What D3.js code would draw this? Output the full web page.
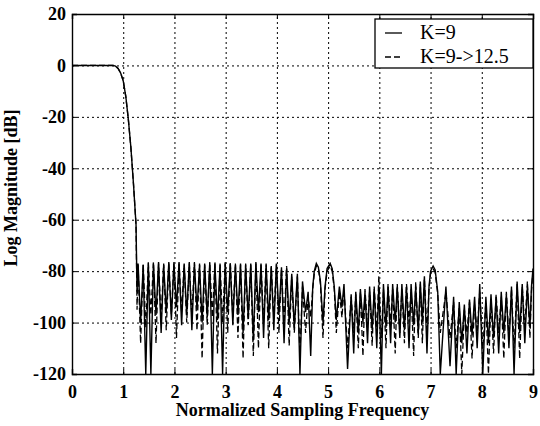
<!DOCTYPE html>
<html>
<head>
<meta charset="utf-8">
<script src="https://cdn.jsdelivr.net/npm/d3@7"></script>
<style>
  body { margin: 0; background: #fff; }
  .chart text { font-family: "Liberation Serif", "Times New Roman", serif; fill: #000; }
</style>
</head>
<body>
<div class="chart"></div>
<script>
var margin = {
    top: 14,
    right: 7,
    bottom: 52,
    left: 72
};
var width = 540 - margin.left - margin.right;
var height = 426 - margin.top - margin.bottom;
var serif = '"Liberation Serif", "Times New Roman", serif';

// tick labels
var xTicks = [0, 1, 2, 3, 4, 5, 6, 7, 8, 9];
var yTicks = [20, 0, -20, -40, -60, -80, -100, -120];
var legendLabels = ['K=9', 'K=9->12.5'];

// normalized sampling frequency (shared by both curves)
var freq = [
    0, 0.2, 0.4, 0.6, 0.8, 0.85, 0.9, 0.95, 1.0, 1.05, 1.1, 1.15, 1.2, 1.25, 1.27,
    1.29, 1.34, 1.39, 1.44, 1.49, 1.54, 1.59, 1.64, 1.69, 1.74, 1.79, 1.84, 1.89, 1.94, 1.99,
    2.04, 2.09, 2.14, 2.19, 2.24, 2.29, 2.34, 2.39, 2.44, 2.49, 2.54, 2.59, 2.64, 2.69, 2.74,
    2.79, 2.84, 2.89, 2.94, 2.99, 3.04, 3.09, 3.14, 3.19, 3.24, 3.29, 3.34, 3.39, 3.44, 3.49,
    3.54, 3.59, 3.64, 3.69, 3.74, 3.79, 3.84, 3.89, 3.94, 3.99, 4.04, 4.09, 4.14, 4.19, 4.24,
    4.29, 4.34,
    4.40, 4.45, 4.50, 4.56, 4.61, 4.66, 4.70, 4.73, 4.77, 4.81, 4.85, 4.90,
    4.94, 4.98, 5.04, 5.08, 5.12, 5.16, 5.22, 5.27, 5.31, 5.38,
    5.45, 5.50, 5.54, 5.59, 5.63, 5.68, 5.72, 5.77, 5.81, 5.86, 5.90, 5.95, 5.99, 6.04, 6.08,
    6.13, 6.17, 6.22, 6.26, 6.31, 6.35, 6.40, 6.44, 6.49, 6.53, 6.58, 6.62, 6.67, 6.71, 6.76,
    6.80, 6.84, 6.88, 6.93,
    6.97, 7.00, 7.05, 7.09, 7.14, 7.19, 7.30, 7.38, 7.45, 7.50, 7.56, 7.61, 7.66, 7.71, 7.76,
    7.81, 7.86, 7.91, 7.96, 8.02, 8.08, 8.13, 8.18, 8.23, 8.28, 8.33, 8.38, 8.43, 8.48, 8.53,
    8.58, 8.63, 8.69, 8.74, 8.79, 8.84, 8.89, 8.94, 8.97, 9.0
];

// K=9 (solid), dB
var magK9 = [
    0, 0, 0, 0, 0, -0.3, -1.2, -3, -6, -12, -21, -32, -46, -62, -88,
    -77, -100, -77.5, -120, -76.5, -120, -77, -97, -76.5, -104, -77.5, -96, -76.5, -99, -77,
    -94, -76.5, -101, -77, -97, -76.5, -103, -77, -95, -77.5, -100, -77, -98, -76.5, -120,
    -77, -99, -77.5, -120, -76.5, -96, -77, -101, -77.5, -97, -77, -104, -77.5, -98, -77,
    -107, -76.5, -96, -77, -106, -77.5, -99, -78, -103, -77, -97, -78.5, -108, -79, -100,
    -81, -102,
    -81, -120, -84, -96, -88, -113, -86, -80, -77, -78.5, -84, -100,
    -86, -79, -77, -79, -86, -99, -86, -94, -85, -118,
    -89, -112, -88, -104, -87, -100, -88, -108, -86, -103, -87, -110, -86, -120, -85,
    -102, -86, -108, -85, -100, -86, -106, -85, -103, -86, -110, -85, -101, -86, -104,
    -84, -100, -82, -112,
    -86, -80, -78, -79.5, -88, -120, -86, -117, -90, -120, -92, -108, -93, -112, -91,
    -105, -90, -110, -85, -120, -90, -108, -89, -106, -90, -112, -88, -104, -89, -110,
    -86, -120, -84, -104, -85, -108, -86, -102, -86, -79
];

// K=9->12.5 (dashed), dB
var magK9to125 = [
    0, 0, 0, 0, 0, -0.3, -1.2, -3, -6, -12, -21, -32, -46, -62, -95,
    -77.5, -108, -77, -102, -77, -97, -76.5, -108, -77, -99, -77, -103, -77, -97, -76.5,
    -106, -77, -96, -77.5, -100, -77, -98, -76.5, -103, -77, -114, -77.5, -101, -77, -98,
    -76.5, -112, -77, -100, -77, -104, -76.5, -98, -77, -106, -77.5, -114, -77, -101, -77.5,
    -113, -77, -110, -77.5, -100, -77, -110, -78.5, -98, -77.5, -104, -79, -100, -78, -109,
    -82, -104,
    -82, -112, -86, -104, -90, -98, -87, -81, -78, -79, -85, -106,
    -87, -80, -78, -80, -87, -104, -88, -98, -87, -110,
    -90, -104, -89, -110, -88, -113, -87, -102, -88, -109, -86, -104, -82, -106, -87,
    -110, -85, -101, -87, -112, -85, -104, -87, -108, -85, -100, -87, -113, -84, -106,
    -85, -108, -83, -104,
    -87, -81, -79, -80.5, -89, -104, -88, -106, -92, -110, -94, -120, -95, -104, -92,
    -114, -93, -104, -88, -110, -92, -120, -91, -112, -89, -104, -90, -114, -88, -106,
    -87, -110, -85, -114, -86, -102, -84, -106, -88, -80
];

var svg = d3.select('.chart')
    .append('svg')
    .attr('width', width + margin.left + margin.right)
    .attr('height', height + margin.top + margin.bottom)
    .append('g')
    .attr('transform', 'translate(' + margin.left + ', ' + margin.top + ')');

var xScale = d3.scaleLinear().domain([0, 9]).range([0, width]);
var yScale = d3.scaleLinear().domain([-120, 20]).range([height, 0]);

// grid (dotted)
svg.append('g')
    .attr('transform', `translate(0, ${height})`)
    .call(d3.axisBottom(xScale).tickValues(xTicks).tickSize(-height).tickFormat(''))
    .call(g => g.select('.domain').remove())
    .selectAll('line')
    .attr('stroke', '#000')
    .attr('stroke-width', 1)
    .attr('stroke-dasharray', '2,3');
svg.append('g')
    .call(d3.axisLeft(yScale).tickValues(yTicks).tickSize(-width).tickFormat(''))
    .call(g => g.select('.domain').remove())
    .selectAll('line')
    .attr('stroke', '#000')
    .attr('stroke-width', 1)
    .attr('stroke-dasharray', '2,3');

// clip the curves to the axes box
svg.append('clipPath')
    .attr('id', 'plotclip')
    .append('rect')
    .attr('width', width)
    .attr('height', height);

var points = freq.map((f, i) => ({ f: f, a: magK9[i], b: magK9to125[i] }));

var lineA = d3.line().x(d => xScale(d.f)).y(d => yScale(d.a));
var lineB = d3.line().x(d => xScale(d.f)).y(d => yScale(d.b));

var curves = svg.append('g').attr('clip-path', 'url(#plotclip)');
curves.append('path')
    .datum(points)
    .attr('fill', 'none')
    .attr('stroke', '#000')
    .attr('stroke-width', 1.3)
    .attr('stroke-dasharray', '6,3')
    .attr('d', lineB);
curves.append('path')
    .datum(points)
    .attr('fill', 'none')
    .attr('stroke', '#000')
    .attr('stroke-width', 1.4)
    .attr('d', lineA);

// axes with inward ticks and tick labels (plain hyphen for negatives)
svg.append('g')
    .attr('transform', `translate(0, ${height})`)
    .call(d3.axisBottom(xScale).tickValues(xTicks).tickSize(-5).tickPadding(11).tickFormat(d => String(d)));
svg.append('g')
    .call(d3.axisLeft(yScale).tickValues(yTicks).tickSize(-5).tickPadding(6).tickFormat(d => String(d)));
svg.append('g')
    .call(d3.axisTop(xScale).tickValues(xTicks).tickSize(-5).tickFormat(''));
svg.append('g')
    .attr('transform', `translate(${width}, 0)`)
    .call(d3.axisRight(yScale).tickValues(yTicks).tickSize(-5).tickFormat(''));

svg.selectAll('.domain').attr('stroke', '#000').attr('stroke-width', 1.4);
svg.selectAll('.tick text')
    .attr('font-family', serif)
    .style('font-family', serif)
    .style('font-size', '18px')
    .style('font-weight', 'bold');

// legend
var legend = svg.append('g')
    .attr('transform', 'translate(' + (width - 158) + ', 5)');
legend.append('rect')
    .attr('width', 158)
    .attr('height', 49)
    .attr('fill', '#fff')
    .attr('stroke', '#000')
    .attr('stroke-width', 1.3);
legendLabels.forEach(function (label, i) {
    var row = legend.append('g').attr('transform', 'translate(0, ' + (14 + i * 24) + ')');
    row.append('line')
        .attr('x1', 10)
        .attr('x2', 27)
        .attr('stroke', '#000')
        .attr('stroke-width', 1.3)
        .attr('stroke-dasharray', i === 1 ? '6,3' : null);
    row.append('text')
        .attr('x', 45)
        .attr('y', 6)
        .style('font-size', '20px')
        .text(label);
});

// axis titles
svg.append('text')
    .attr('x', width / 2)
    .attr('y', height + 42)
    .attr('text-anchor', 'middle')
    .style('font-size', '18px')
    .style('font-weight', 'bold')
    .text('Normalized Sampling Frequency');
svg.append('text')
    .attr('transform', 'translate(' + (-55) + ', ' + (height / 2 - 6) + ') rotate(-90)')
    .attr('text-anchor', 'middle')
    .style('font-size', '18px')
    .style('font-weight', 'bold')
    .text('Log Magnitude [dB]');
</script>
</body>
</html>
